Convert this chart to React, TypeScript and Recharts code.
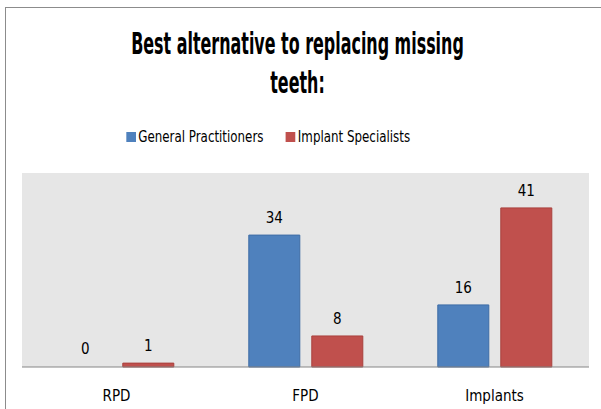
import { BarChart, Bar, XAxis, YAxis, CartesianGrid, LabelList, Rectangle } from 'recharts';

const categories = ['RPD', 'FPD', 'Implants'];
const generalPractitioners = [0, 34, 16];
const implantSpecialists = [1, 8, 41];
const seriesNames = ['General Practitioners', 'Implant Specialists'];
const titleLines = ['Best alternative to replacing missing', 'teeth:'];

const BLUE = '#4F81BD';
const RED = '#C0504D';
const FONT = '"DejaVu Sans Condensed", "DejaVu Sans", sans-serif';

const data = categories.map((name, i) => ({
  name,
  gp: generalPractitioners[i],
  is: implantSpecialists[i]
}));

// labels drawn by hand so that the zero bar still gets its "0"
const renderValue = (props: any) => {
  const { x, y, width, value } = props;
  return (
    <text
      x={Number(x) + Number(width) / 2}
      y={Number(y) - 12}
      textAnchor='middle'
      fontFamily={FONT}
      fontSize={15}
      fill='#000'
    >
      {value}
    </text>
  );
};

// zero bars get minPointSize for their label, but draw nothing
const renderBar = (key: string) => (props: any) => {
  if (props.payload && props.payload[key] === 0) return <g />;
  return <Rectangle {...props} />;
};

export default function App() {
  return (
    <div style={{ position: 'absolute', left: 0, top: 0, width: 601, height: 409, background: '#fff', overflow: 'hidden' }}>
      {/* chart border */}
      <div style={{ position: 'absolute', left: 5, top: 7, width: 620, height: 420, border: '1px solid #8c8c8c' }} />
      <div
        style={{
          position: 'absolute',
          top: 24,
          left: 0,
          width: 595,
          textAlign: 'center',
          fontFamily: FONT,
          fontWeight: 'bold',
          fontSize: 30,
          lineHeight: '39px',
          color: '#000'
        }}
      >
        {titleLines.map((t) => (
          <div key={t} style={{ transform: 'scaleX(0.59)' }}>{t}</div>
        ))}
      </div>
      <div
        style={{
          position: 'absolute',
          top: 128,
          left: 0,
          width: 536,
          display: 'flex',
          justifyContent: 'center',
          fontFamily: FONT,
          fontSize: 15,
          color: '#000',
          transform: 'scaleX(0.88)'
        }}
      >
        {[BLUE, RED].map((c, i) => (
          <div key={i} style={{ display: 'flex', alignItems: 'center', marginRight: i === 0 ? 25 : 0 }}>
            <span style={{ width: 11, height: 10, background: c, marginRight: 3, display: 'inline-block' }} />
            <span>{seriesNames[i]}</span>
          </div>
        ))}
      </div>
      <div style={{ position: 'absolute', left: 0, top: 0 }}>
        <BarChart
          width={601}
          height={409}
          data={data}
          margin={{ top: 173, right: 12, left: 22, bottom: 0 }}
          barGap={12}
          barCategoryGap='20%'
        >
          <CartesianGrid fill='#E6E6E6' stroke='none' horizontal={false} vertical={false} />
          <YAxis hide domain={[0, 50]} />
          <XAxis
            dataKey='name'
            height={42}
            axisLine={{ stroke: '#868686' }}
            tickLine={false}
            tickSize={21}
            tick={{ fontFamily: FONT, fontSize: 15, fill: '#000' }}
          />
          <Bar dataKey='gp' fill={BLUE} stroke='#3E6DA6' minPointSize={1} shape={renderBar('gp')} isAnimationActive={false}>
            <LabelList dataKey='gp' content={renderValue} />
          </Bar>
          <Bar dataKey='is' fill={RED} stroke='#A9403D' shape={renderBar('is')} isAnimationActive={false}>
            <LabelList dataKey='is' content={renderValue} />
          </Bar>
        </BarChart>
      </div>
    </div>
  );
}
